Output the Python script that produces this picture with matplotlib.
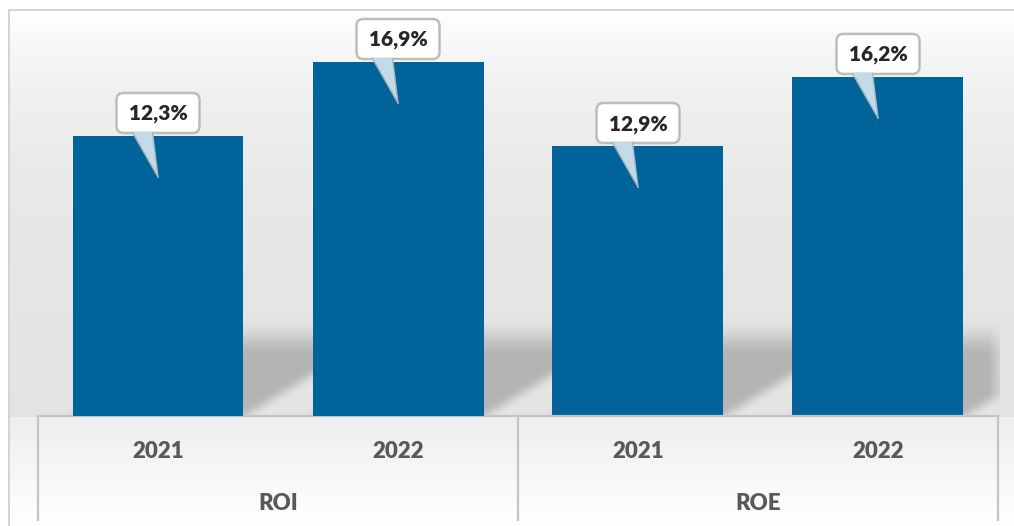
import numpy as np
import matplotlib
matplotlib.use("Agg")
import matplotlib.pyplot as plt
from matplotlib.patches import FancyBboxPatch, Polygon
from matplotlib.lines import Line2D
from matplotlib.transforms import Affine2D, ScaledTranslation, blended_transform_factory

# ---------------- data ----------------
groups = ["ROI", "ROE"]
years = ["2021", "2022"]
roi_values = [12.3, 16.9]
roe_values = [12.9, 16.2]
roi_labels = ["12,3%", "16,9%"]
roe_labels = ["12,9%", "16,2%"]

# ---------------- style ----------------
plt.rcParams['font.family'] = ['Lato', 'DejaVu Sans']
BAR = "#00649A"
W, H, DPI = 1014, 526, 100

fig = plt.figure(figsize=(W / DPI, H / DPI), dpi=DPI)
fig.patch.set_facecolor("white")

base_px, top_px, left_px, right_px = 416, 20, 38, 998
rect = [left_px / W, (H - base_px) / H, (right_px - left_px) / W, (base_px - top_px) / H]
ax = fig.add_axes(rect, zorder=2)       # ROE scale
ax_roi = fig.add_axes(rect, zorder=3)   # ROI scale
for a in (ax, ax_roi):
    a.patch.set_visible(False)
    for s in a.spines.values():
        s.set_visible(False)
    a.set_xticks([])
    a.set_yticks([])
    a.set_xlim(0, 4)
ax.set_ylim(0, 18.92)
ax_roi.set_ylim(-5.105, 19.51)

roi_x = [0.5, 1.5]
roe_x = [2.5, 3.5]
width = 0.7125
lo = ax_roi.get_ylim()[0]
ax_roi.bar(roi_x, [v - lo for v in roi_values], bottom=lo, width=width, color=BAR, zorder=3)
ax.bar(roe_x, roe_values, width=width, color=BAR, zorder=3)

# ---------------- background (gradient + perspective shadow) ----------------
rows = np.arange(H)[:, None].astype(float)
cols = np.arange(W)[None, :].astype(float)
img = np.full((H, W), 255.0)
inner = (rows >= 10) & (cols >= 9)
upper = 227 + 28 * np.exp(-(rows - 10) / 115.0)
lower = 238 + 17 * np.clip((rows - 418) / 105.0, 0, 1)
bg = np.where(rows <= base_px, upper, lower) * np.ones_like(cols)
img = np.where(inner, bg, img)

# shadows cast by bars
mask = np.zeros((H, W))
bars_px = []
for a, xs, vs in ((ax_roi, roi_x, roi_values), (ax, roe_x, roe_values)):
    for x in xs:
        xl = a.transData.transform((x - width / 2, 0))[0]
        xr = a.transData.transform((x + width / 2, 0))[0]
        bars_px.append((xl, xr))
r = rows[:, 0]
top_fade = np.clip((r - 318) / 38.0, 0, 1)
top_fade = top_fade * top_fade * (3 - 2 * top_fade)
for xl, xr in bars_px:
    dx = 125 * (base_px - r) / 76.0
    for i in range(300, base_px + 1):
        if top_fade[i] <= 0:
            continue
        c0 = int(round(xl + dx[i]))
        c1 = int(round(xr + dx[i]))
        c1 = min(c1, right_px)
        if c1 > c0:
            mask[i, c0:c1] = np.maximum(mask[i, c0:c1], top_fade[i])

def box_blur(m, k, axis):
    pad = [(0, 0), (0, 0)]
    pad[axis] = (k, k)
    mp = np.pad(m, pad, mode="edge")
    cs = np.cumsum(mp, axis=axis)
    cs = np.insert(cs, 0, 0, axis=axis)
    n = m.shape[axis]
    if axis == 1:
        return (cs[:, 2 * k + 1: 2 * k + 1 + n] - cs[:, 0:n]) / (2 * k + 1)
    return (cs[2 * k + 1: 2 * k + 1 + n, :] - cs[0:n, :]) / (2 * k + 1)

mask = box_blur(mask, 9, 1)
mask = box_blur(mask, 5, 0)
mask[base_px + 1:, :] = 0
mask[:, right_px + 2:] = 0
img = img * (1 - 0.21 * mask)

# frame lines
img[9:11, 8:] = 212
img[9:, 8:10] = 212

rgb = np.clip(np.dstack([img, img, img]) / 255.0, 0, 1)
fig.figimage(rgb, xo=0, yo=0, origin="upper", zorder=0)

# ---------------- category axis ----------------
blend = blended_transform_factory(ax.transData, ax.transAxes)
line_c = "#c4c4c4"
depth = (base_px - 520) / (base_px - top_px)
ax.add_line(Line2D([0, 4], [0, 0], transform=blend, color=line_c, lw=1.6, clip_on=False, zorder=4))
for xv in [0, 2, 4]:
    ax.add_line(Line2D([xv, xv], [0, depth], transform=blend, color=line_c, lw=1.6,
                       clip_on=False, zorder=4))

year_y = (base_px - 452) / (base_px - top_px)
group_y = (base_px - 503) / (base_px - top_px)
for xs, g in ((roi_x, groups[0]), (roe_x, groups[1])):
    for x, yr in zip(xs, years):
        ax.text(x, year_y, yr, transform=blend, ha="center", va="center",
                fontsize=16, fontweight="heavy", color="#595959", clip_on=False)
    ax.text(np.mean(xs), group_y, g, transform=blend, ha="center", va="center",
            fontsize=16, fontweight="heavy", color="#595959", clip_on=False)

# ---------------- callout labels ----------------
def callout(a, x, v, label):
    trans = Affine2D() + ScaledTranslation(x, v, a.transData)
    box = FancyBboxPatch((-41.5, 3), 83, 40, boxstyle="round,pad=0,rounding_size=7",
                         fc="white", ec="#bdbdbd", lw=1.8, transform=trans, zorder=10)
    fig.add_artist(box)
    tri = Polygon([(-25.5, 4.3), (-5.5, 4.3), (0, -41)], closed=True, fc="#c3dbe9",
                  ec="none", transform=trans, zorder=11)
    fig.add_artist(tri)
    for bx in (-25.5, -5.5):
        fig.add_artist(Line2D([bx, 0], [3.5, -41], color="#a9b4bb", lw=1.0,
                              transform=trans, zorder=12))
    fig.text(0, 22, label, transform=trans, ha="center", va="center", fontsize=15,
             fontweight="heavy", color="#262626", zorder=13)

for x, v, lab in zip(roi_x, roi_values, roi_labels):
    callout(ax_roi, x, v, lab)
for x, v, lab in zip(roe_x, roe_values, roe_labels):
    callout(ax, x, v, lab)

fig.savefig("out.png", dpi=DPI)
